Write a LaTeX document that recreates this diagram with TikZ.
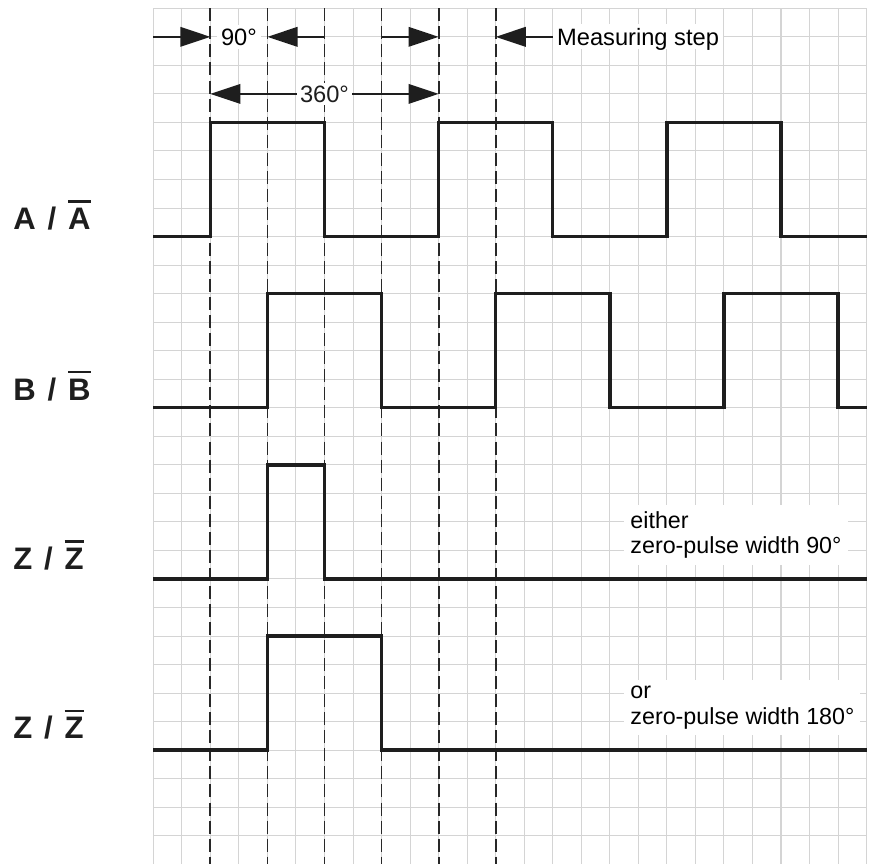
\documentclass[tikz,border=0pt]{standalone}
\usepackage{fontspec}
\setmainfont{Liberation Sans}
\usepackage{xcolor}
\usepackage{tikz}
\usetikzlibrary{arrows.meta, positioning, calc}
\definecolor{gridgray}{RGB}{212,212,212}
\definecolor{dashgray}{RGB}{40,40,40}
\definecolor{ink}{RGB}{30,30,30}
\newcommand{\negsig}[1]{\vbox{\hrule height 1.3pt\kern2.6pt\hbox{#1}}}

\begin{document}
\begin{tikzpicture}[
    x=0.5cm, y=0.5cm,
    gridline/.style={gridgray, line width=0.5pt},
    phase/.style={dashgray, line width=0.9pt, dash pattern=on 6.5pt off 2.5pt},
    signal/.style={ink, line width=1.7pt, line join=miter},
    dimarrow/.style={ink, line width=1.1pt, -{Triangle[length=15pt, width=9.7pt]}},
    dimboth/.style={ink, line width=1.1pt, {Triangle[length=15pt, width=9.7pt]}-{Triangle[length=15pt, width=9.7pt]}},
    anno/.style={fill=white, inner sep=2pt, text depth=0pt, font=\fontsize{11.8}{12.8}\selectfont},
    remark/.style={fill=white, inner sep=3pt, align=left, anchor=north west, font=\fontsize{11.6}{12.8}\selectfont},
    sig/.style={anchor=base west, inner sep=0pt, ink, font=\fontsize{15.5}{18}\selectfont\bfseries}
]

\path[use as bounding box, fill=white] (-5.373,0.291) rectangle (25.225,-29.958);

% Grid
\draw[gridline, step=0.5cm] (0,-30) grid (25,0);

% Phase marks
\foreach \x in {2,4,...,12}
    \draw[phase] (\x,0) -- (\x,-30);

% Signals
\draw[signal] (0,-8) -- (2,-8) -- (2,-4) -- (6,-4) -- (6,-8) -- (10,-8) -- (10,-4) -- (14,-4)
    -- (14,-8) -- (18,-8) -- (18,-4) -- (22,-4) -- (22,-8) -- (25,-8);
\draw[signal] (0,-14) -- (4,-14) -- (4,-10) -- (8,-10) -- (8,-14) -- (12,-14) -- (12,-10) -- (16,-10)
    -- (16,-14) -- (20,-14) -- (20,-10) -- (24,-10) -- (24,-14) -- (25,-14);
\draw[signal] (0,-20) -- (4,-20) -- (4,-16) -- (6,-16) -- (6,-20) -- (25,-20);
\draw[signal] (0,-26) -- (4,-26) -- (4,-22) -- (8,-22) -- (8,-26) -- (25,-26);

\node[sig] (lblA) at (-4.918,-7.75) {A\hspace{0.38em}/\hspace{0.38em}\negsig{A}};
\node[sig] (lblB) at (-4.918,-13.73) {B\hspace{0.38em}/\hspace{0.38em}\negsig{B}};
\node[sig] (lblZa) at (-4.918,-19.66) {Z\hspace{0.38em}/\hspace{0.38em}\negsig{Z}};
\node[sig] (lblZb) at (-4.918,-25.6) {Z\hspace{0.38em}/\hspace{0.38em}\negsig{Z}};

\node[remark] (either) at (16.5,-17.41) {either\\zero-pulse width 90°};
\node[remark] (or) at (16.5,-23.54) {or\\zero-pulse width 180°};

% Measuring marks
\coordinate (m0) at (0,-1);
\coordinate (m2) at (2,-1);
\coordinate (m4) at (4,-1);
\coordinate (m6) at (6,-1);
\coordinate (m8) at (8,-1);
\coordinate (m10) at (10,-1);
\coordinate (m12) at (12,-1);
\node[anno] (deg90) at (3,-1) {90°};
\node[anno, anchor=west] (step) at (14,-1) {Measuring step};
\draw[dimarrow] (m0) -- (m2);
\draw[dimarrow] (m6) -- (m4);
\draw[dimarrow] (m8) -- (m10);
\draw[dimarrow] (step.west) -- (m12);

\coordinate (p2) at (2,-3);
\coordinate (p10) at (10,-3);
\draw[dimboth] (p2) -- node[anno, inner sep=1.5pt] (deg360) {360°} (p10);

\end{tikzpicture}
\end{document}
